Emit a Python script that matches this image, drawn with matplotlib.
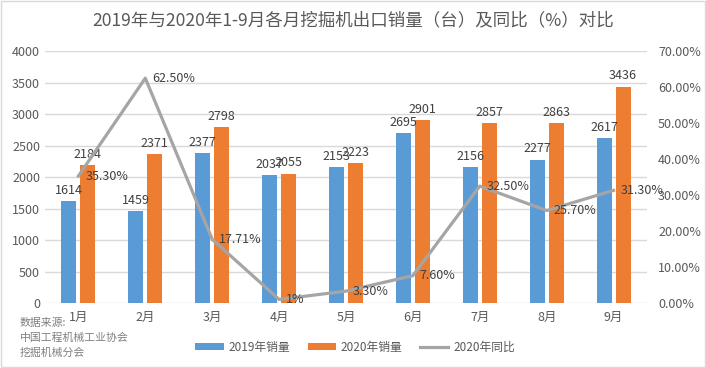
import numpy as np
import matplotlib.pyplot as plt
from matplotlib.patches import Rectangle
from matplotlib.ticker import FuncFormatter, MultipleLocator

plt.rcParams['font.family'] = ['Noto Sans CJK SC', 'DejaVu Sans']

# 数据
months = ['1月', '2月', '3月', '4月', '5月', '6月', '7月', '8月', '9月']
sales_2019 = [1614, 1459, 2377, 2037, 2153, 2695, 2156, 2277, 2617]
sales_2020 = [2184, 2371, 2798, 2055, 2223, 2901, 2857, 2863, 3436]
yoy_2020 = [0.353, 0.625, 0.1771, 0.01, 0.033, 0.076, 0.325, 0.257, 0.313]
yoy_labels = ['35.30%', '62.50%', '17.71%', '1%', '3.30%', '7.60%', '32.50%', '25.70%', '31.30%']

c_blue = '#5B9BD5'
c_orange = '#ED7D31'
c_gray = '#A5A5A5'
c_text = '#595959'

fig = plt.figure(figsize=(7.06, 3.68), dpi=100)
ax = fig.add_axes([0.0637, 0.1766, 0.8527, 0.6844])
ax2 = ax.twinx()

x = np.arange(len(months))
w = 0.224
off = 0.142
b1 = ax.bar(x - off, sales_2019, w, color=c_blue, label='2019年销量', zorder=2)
b2 = ax.bar(x + off, sales_2020, w, color=c_orange, label='2020年销量', zorder=2)
ax.bar_label(b1, padding=3, fontsize=9, color='#404040')
ax.bar_label(b2, padding=3, fontsize=9, color='#404040')

ax.set_xlim(-0.5, len(months) - 0.5)
ax.set_ylim(0, 4000)
ax.yaxis.set_major_locator(MultipleLocator(500))
ax.grid(axis='y', color='#D9D9D9', linewidth=1, zorder=0)
ax.set_axisbelow(True)
ax.set_xticks(x)
ax.set_xticklabels(months)
ax.tick_params(axis='both', length=0, labelsize=9, colors=c_text)
ax.tick_params(axis='x', pad=6)

ln, = ax2.plot(x, yoy_2020, color=c_gray, linewidth=2.3, label='2020年同比', zorder=3)
for xi, yi, lab in zip(x, yoy_2020, yoy_labels):
    ax2.annotate(lab, (xi, yi), xytext=(5, 0), textcoords='offset points',
                 ha='left', va='center', fontsize=9, color='#404040')
ax2.set_ylim(0, 0.7)
ax2.yaxis.set_major_locator(MultipleLocator(0.1))
ax2.yaxis.set_major_formatter(FuncFormatter(lambda v, p: f'{v * 100:.2f}%'))
ax2.tick_params(axis='y', length=0, labelsize=9, colors=c_text, pad=8)

for a in (ax, ax2):
    for s in a.spines.values():
        s.set_visible(False)

fig.text(0.5, 0.945, '2019年与2020年1-9月各月挖掘机出口销量（台）及同比（%）对比',
         ha='center', va='center', fontsize=12.6, color=c_text)

fig.text(20 / 706, 1 - 323 / 368, '数据来源:', fontsize=7.8, color='#7F7F7F', va='center')
fig.text(20 / 706, 1 - 338 / 368, '中国工程机械工业协会', fontsize=7.8, color='#7F7F7F', va='center')
fig.text(20 / 706, 1 - 353 / 368, '挖掘机械分会', fontsize=7.8, color='#7F7F7F', va='center')

fig.legend(handles=[b1, b2, ln], loc='center', bbox_to_anchor=(0.503, 1 - 347 / 368),
           ncol=3, frameon=False, fontsize=8.5, labelcolor=c_text,
           handlelength=2.4, handleheight=0.6, columnspacing=1.5, handletextpad=0.4)

fig.patches.append(Rectangle((0.001, 0.002), 0.997, 0.995, transform=fig.transFigure,
                             fill=False, edgecolor='#D9D9D9', linewidth=1))

fig.savefig('out.png', dpi=100)
